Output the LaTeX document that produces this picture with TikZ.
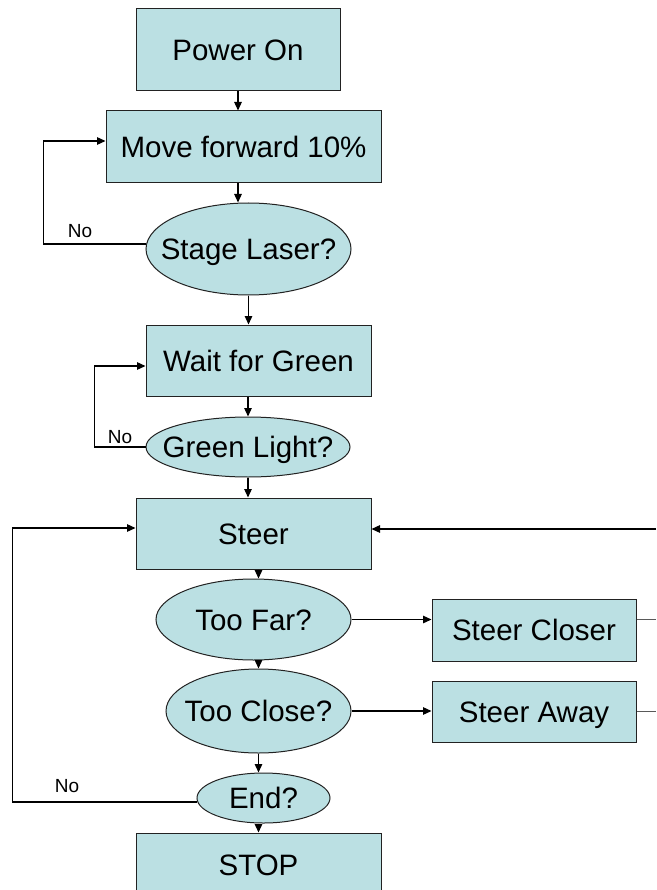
\documentclass[tikz,border=0pt]{standalone}
\usepackage{fontspec}
\setmainfont{Liberation Sans}
\usetikzlibrary{shapes.geometric,arrows.meta}
\definecolor{boxfill}{HTML}{BBE0E3}
\definecolor{edge}{HTML}{222222}
\newcommand{\tightlabel}[1]{\makebox[0pt]{#1}}
\tikzset{
  box/.style={draw=edge,line width=1pt,fill=boxfill,rectangle,inner sep=0pt,
    text height=21pt,text depth=0pt,
    font=\fontsize{29.5}{34}\selectfont},
  decision/.style={draw=edge,line width=1pt,fill=boxfill,ellipse,inner sep=0pt,
    text height=21pt,text depth=0pt,
    font=\fontsize{29.5}{34}\selectfont},
  conn/.style={line width=1.3pt,draw=black,-{Triangle[length=8.5pt,width=7.5pt]}},
  stub/.style={line width=0.9pt,draw=black!65},
  nolabel/.style={font=\fontsize{19}{22}\selectfont,inner sep=0pt}
}
\begin{document}
\begin{tikzpicture}[x=1pt,y=-1pt]
\useasboundingbox (0,0) rectangle (656,890);
\clip (0,0) rectangle (656,890);
% nodes
\node[box,minimum width=204pt,minimum height=82pt] (power) at (238,50) {Power On};
\node[box,minimum width=275pt,minimum height=72pt] (move) at (243.5,147) {Move forward 10\%};
\node[decision,minimum width=205pt,minimum height=92pt] (stage) at (248.5,249) {\tightlabel{Stage Laser?}};
\node[box,minimum width=225pt,minimum height=71pt] (wait) at (258.5,360.5) {Wait for Green};
\node[decision,minimum width=204pt,minimum height=60pt] (green) at (248,447) {\tightlabel{Green Light?}};
\node[box,minimum width=235pt,minimum height=71pt] (steer) at (253.5,533.5) {Steer};
\node[decision,minimum width=195pt,minimum height=81pt] (toofar) at (253.5,619.5) {\tightlabel{Too Far?}};
\node[decision,minimum width=185pt,minimum height=84pt] (tooclose) at (258.5,711) {\tightlabel{Too Close?}};
\node[decision,minimum width=133pt,minimum height=50pt] (end) at (263.5,798) {\tightlabel{End?}};
\node[box,minimum width=245pt,minimum height=64pt] (stop) at (258.5,865) {STOP};
\node[box,minimum width=204pt,minimum height=62pt] (closer) at (534,630) {Steer Closer};
\node[box,minimum width=204pt,minimum height=61pt] (away) at (534,711.5) {Steer Away};
\coordinate (redge) at (656,529);
% main chain
\draw[conn] (power.south) -- (power.south |- move.north);
\draw[conn] (move.south -| power.south) -- (power.south |- stage.north);
\draw[conn] (stage.south) -- (stage.south |- wait.north);
\draw[conn] (wait.south -| green.north) -- (green.north);
\draw[conn] (green.south) -- (green.south |- steer.north);
\draw[conn] (steer.south -| tooclose.north) -- (tooclose.north |- toofar.north);
\draw[conn] (toofar.south -| tooclose.north) -- (tooclose.north);
\draw[conn] (tooclose.south) -- (tooclose.south |- end.north);
\draw[conn] (end.south -| tooclose.south) -- (tooclose.south |- stop.north);
% side branches
\draw[conn] (toofar.east) -- (toofar.east -| closer.west);
\draw[conn] (tooclose.east) -- (tooclose.east -| away.west);
\draw[stub] (closer.east |- toofar.east) -- (toofar.east -| redge);
\draw[stub] (away.east |- tooclose.east) -- (tooclose.east -| redge);
\draw[conn] (redge) -- (redge -| steer.east);
% loops
\draw[conn] ([yshift=5pt]stage.west) -- ++(-102,0) |- ([yshift=6pt]move.west);
\node[nolabel] (no1) at (80,231) {No};
\draw[conn] (green.west) -- ++(-51,0) |- ([yshift=-5.5pt]wait.west);
\node[nolabel] (no2) at (120,437) {No};
\draw[conn] ([yshift=-4pt]end.west) -- ++(-184,0) |- ([yshift=5.5pt]steer.west);
\node[nolabel] (no3) at (67,786) {No};
\end{tikzpicture}
\end{document}
